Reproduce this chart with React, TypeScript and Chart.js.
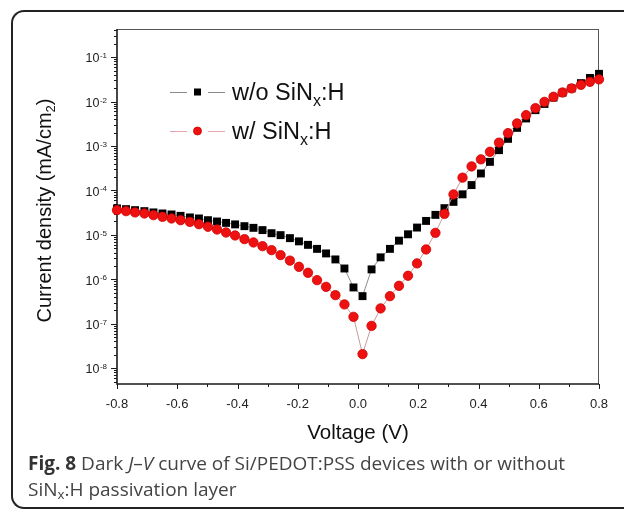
import React, { useEffect, useRef } from "react";
import { Chart, registerables } from "chart.js";

Chart.register(...registerables);

// ---- Data ----
const voltage = [
  -0.8, -0.77, -0.74, -0.709, -0.679, -0.649, -0.619, -0.589, -0.558, -0.528,
  -0.498, -0.468, -0.438, -0.408, -0.377, -0.347, -0.317, -0.287, -0.257, -0.226,
  -0.196, -0.166, -0.136, -0.106, -0.075, -0.045, -0.015, 0.015, 0.045, 0.075,
  0.106, 0.136, 0.166, 0.196, 0.226, 0.257, 0.287, 0.317, 0.347, 0.377,
  0.408, 0.438, 0.468, 0.498, 0.528, 0.558, 0.589, 0.619, 0.649, 0.679,
  0.709, 0.74, 0.77, 0.8,
];

const jWithout = [
  3.94e-5, 3.79e-5, 3.6e-5, 3.42e-5, 3.2e-5, 3.03e-5, 2.88e-5, 2.68e-5, 2.47e-5, 2.34e-5,
  2.14e-5, 2.0e-5, 1.86e-5, 1.72e-5, 1.57e-5, 1.44e-5, 1.28e-5, 1.09e-5, 9.86e-6, 8.44e-6,
  7.15e-6, 5.96e-6, 4.84e-6, 3.82e-6, 2.8e-6, 1.75e-6, 6.56e-7, 4.18e-7, 1.67e-6, 3.12e-6,
  4.84e-6, 7.41e-6, 1.03e-5, 1.46e-5, 2.06e-5, 2.82e-5, 3.99e-5, 5.53e-5, 8.17e-5, 1.32e-4,
  2.41e-4, 4.4e-4, 8.07e-4, 1.45e-3, 2.56e-3, 4.17e-3, 6.41e-3, 8.85e-3, 1.23e-2, 1.59e-2,
  1.98e-2, 2.6e-2, 3.4e-2, 4.21e-2,
];

const jWith = [
  3.6e-5, 3.42e-5, 3.2e-5, 3.03e-5, 2.78e-5, 2.55e-5, 2.34e-5, 2.14e-5, 1.96e-5, 1.74e-5,
  1.52e-5, 1.32e-5, 1.13e-5, 9.7e-6, 8.01e-6, 6.75e-6, 5.57e-6, 4.53e-6, 3.5e-6, 2.63e-6,
  1.91e-6, 1.4e-6, 9.57e-7, 6.76e-7, 4.4e-7, 2.72e-7, 1.43e-7, 2.07e-8, 8.95e-8, 2.21e-7,
  4.18e-7, 7.13e-7, 1.2e-6, 2.28e-6, 4.7e-6, 1.11e-5, 2.97e-5, 8.13e-5, 1.94e-4, 3.47e-4,
  5.01e-4, 7.4e-4, 1.19e-3, 1.95e-3, 3.22e-3, 4.95e-3, 7.11e-3, 9.86e-3, 1.28e-2, 1.6e-2,
  1.98e-2, 2.38e-2, 2.78e-2, 3.16e-2,
];

const xMajorTicks = [-0.8, -0.6, -0.4, -0.2, 0.0, 0.2, 0.4, 0.6, 0.8];
const xTickLabels = ["-0.8", "-0.6", "-0.4", "-0.2", "0.0", "0.2", "0.4", "0.6", "0.8"];
const xMinorTicks = [-0.7, -0.5, -0.3, -0.1, 0.1, 0.3, 0.5, 0.7];
const yDecadeExponents = [-8, -7, -6, -5, -4, -3, -2, -1];
const yMinorMantissas = [2, 3, 4, 5, 6, 7, 8, 9];

const xRange = { min: -0.8, max: 0.8 };
const yRange = { min: 4.4e-9, max: 0.43 };

const legendEntries = [
  { main: "w/o SiN", sub: "x", tail: ":H" },
  { main: "w/ SiN", sub: "x", tail: ":H" },
];

const xTitle = "Voltage (V)";
const yTitle = { main: "Current density (mA/cm", sub: "2", tail: ")" };

const SANS = '"Liberation Sans", Arial, Helvetica, sans-serif';

function drawSquare(ctx: CanvasRenderingContext2D, x: number, y: number, s: number, color: string) {
  ctx.fillStyle = color;
  ctx.fillRect(x - s / 2, y - s / 2, s, s);
}
function drawCircle(ctx: CanvasRenderingContext2D, x: number, y: number, r: number, fill: string, stroke: string) {
  ctx.beginPath();
  ctx.arc(x, y, r, 0, Math.PI * 2);
  ctx.fillStyle = fill;
  ctx.fill();
  ctx.strokeStyle = stroke;
  ctx.lineWidth = 0.8;
  ctx.stroke();
}

const axesPlugin = {
  id: "customAxes",
  beforeDatasetsDraw(chart: any) {
    const { ctx, chartArea: a, scales } = chart;
    const xs = scales.x;
    const ys = scales.y;
    ctx.save();
    // top and right frame
    ctx.strokeStyle = "#555";
    ctx.lineWidth = 1;
    ctx.beginPath();
    ctx.moveTo(a.left, a.top + 0.5);
    ctx.lineTo(a.right, a.top + 0.5);
    ctx.moveTo(a.right - 0.5, a.top);
    ctx.lineTo(a.right - 0.5, a.bottom);
    ctx.stroke();
    // left and bottom axes
    ctx.strokeStyle = "#1a1a1a";
    ctx.lineWidth = 1.6;
    ctx.beginPath();
    ctx.moveTo(a.left, a.top);
    ctx.lineTo(a.left, a.bottom);
    ctx.lineTo(a.right, a.bottom);
    ctx.stroke();

    // y ticks
    ctx.lineWidth = 1;
    ctx.beginPath();
    const eLo = Math.floor(Math.log10(ys.min));
    const eHi = Math.floor(Math.log10(ys.max));
    for (let e = eLo; e <= eHi; e++) {
      const p = Math.pow(10, e);
      if (p >= ys.min && p <= ys.max) {
        const py = Math.round(ys.getPixelForValue(p)) + 0.5;
        ctx.moveTo(a.left - 6, py);
        ctx.lineTo(a.left, py);
      }
      for (const m of yMinorMantissas) {
        const v = m * p;
        if (v < ys.min || v > ys.max) continue;
        const py = Math.round(ys.getPixelForValue(v)) + 0.5;
        ctx.moveTo(a.left - 3, py);
        ctx.lineTo(a.left, py);
      }
    }
    // x ticks
    for (const v of xMajorTicks) {
      const px = Math.round(xs.getPixelForValue(v)) + 0.5;
      ctx.moveTo(px, a.bottom);
      ctx.lineTo(px, a.bottom + 5);
    }
    for (const v of xMinorTicks) {
      const px = Math.round(xs.getPixelForValue(v)) + 0.5;
      ctx.moveTo(px, a.bottom);
      ctx.lineTo(px, a.bottom + 3);
    }
    ctx.stroke();

    // y tick labels: 10^n
    ctx.fillStyle = "#222";
    ctx.textBaseline = "alphabetic";
    ctx.textAlign = "left";
    for (const e of yDecadeExponents) {
      const py = ys.getPixelForValue(Math.pow(10, e));
      const sup = String(e);
      ctx.font = `8px ${SANS}`;
      const supW = ctx.measureText(sup).width;
      ctx.font = `12.5px ${SANS}`;
      const baseW = ctx.measureText("10").width;
      const right = a.left - 10;
      ctx.fillText("10", right - supW - baseW - 0.5, py + 5.3);
      ctx.font = `8px ${SANS}`;
      ctx.fillText(sup, right - supW, py + 1);
    }
    // x tick labels
    ctx.font = `13px ${SANS}`;
    ctx.textAlign = "center";
    xMajorTicks.forEach((v, i) => {
      const px = xs.getPixelForValue(v);
      ctx.fillText(xTickLabels[i], px, a.bottom + 23.5);
    });

    // x title
    ctx.fillStyle = "#111";
    ctx.font = `20.5px ${SANS}`;
    ctx.textAlign = "center";
    ctx.fillText(xTitle, (a.left + a.right) / 2, a.bottom + 55);

    // y title (rotated)
    ctx.save();
    const cx = 51;
    const cy = (a.top + a.bottom) / 2 + 4;
    ctx.translate(cx, cy);
    ctx.rotate(-Math.PI / 2);
    ctx.font = `20px ${SANS}`;
    const w1 = ctx.measureText(yTitle.main).width;
    const w3 = ctx.measureText(yTitle.tail).width;
    ctx.font = `13px ${SANS}`;
    const w2 = ctx.measureText(yTitle.sub).width;
    const total = w1 + w2 + w3;
    const x0 = -total / 2;
    ctx.textAlign = "left";
    ctx.font = `20px ${SANS}`;
    ctx.fillText(yTitle.main, x0, 0);
    ctx.font = `13px ${SANS}`;
    ctx.fillText(yTitle.sub, x0 + w1, 4);
    ctx.font = `20px ${SANS}`;
    ctx.fillText(yTitle.tail, x0 + w1 + w2, 0);
    ctx.restore();

    ctx.restore();
  },
  afterDraw(chart: any) {
    const { ctx, chartArea: a } = chart;
    ctx.save();
    const rows = [
      { y: a.top + 63, line: "#8a8a8a", kind: "square" },
      { y: a.top + 102, line: "#e6a3ab", kind: "circle" },
    ];
    rows.forEach((r, i) => {
      const lx = a.left + 53;
      ctx.strokeStyle = r.line;
      ctx.lineWidth = 1;
      ctx.beginPath();
      ctx.moveTo(lx, r.y + 0.5);
      ctx.lineTo(lx + 17, r.y + 0.5);
      ctx.moveTo(lx + 38, r.y + 0.5);
      ctx.lineTo(lx + 55, r.y + 0.5);
      ctx.stroke();
      if (r.kind === "square") drawSquare(ctx, lx + 27.5, r.y, 7, "#000");
      else drawCircle(ctx, lx + 27.5, r.y, 4, "#ee1111", "#d00000");
      const entry = legendEntries[i];
      const tx = a.left + 115;
      const base = r.y + 7.5;
      ctx.fillStyle = "#111";
      ctx.textAlign = "left";
      ctx.font = `23.5px ${SANS}`;
      const w1 = ctx.measureText(entry.main).width;
      ctx.fillText(entry.main, tx, base);
      ctx.font = `16px ${SANS}`;
      const w2 = ctx.measureText(entry.sub).width;
      ctx.fillText(entry.sub, tx + w1, base + 6);
      ctx.font = `23.5px ${SANS}`;
      ctx.fillText(entry.tail, tx + w1 + w2, base);
    });
    ctx.restore();
  },
};

export default function App() {
  const canvasRef = useRef<HTMLCanvasElement | null>(null);

  useEffect(() => {
    const canvas = canvasRef.current;
    if (!canvas) return;
    const chart = new Chart(canvas, {
      type: "line",
      data: {
        datasets: [
          {
            label: "w/ SiNx:H",
            data: voltage.map((v, i) => ({ x: v, y: jWith[i] })),
            borderColor: "#c99a9a",
            borderWidth: 1,
            pointStyle: "circle",
            pointRadius: 4.7,
            pointBackgroundColor: "#ee1111",
            pointBorderColor: "#d20000",
            pointBorderWidth: 0.8,
            order: 0,
            clip: false,
          } as any,
          {
            label: "w/o SiNx:H",
            data: voltage.map((v, i) => ({ x: v, y: jWithout[i] })),
            borderColor: "#8c8c8c",
            borderWidth: 1,
            pointStyle: "rect",
            pointRadius: 5.6,
            pointBackgroundColor: "#000",
            pointBorderColor: "#000",
            pointBorderWidth: 0,
            order: 1,
            clip: false,
          } as any,
        ],
      },
      options: {
        animation: false,
        responsive: false,
        devicePixelRatio: 1,
        layout: { padding: { top: 29, right: 25, left: 0, bottom: 0 } },
        plugins: { legend: { display: false }, tooltip: { enabled: false } },
        elements: { line: { tension: 0 } },
        scales: {
          x: {
            type: "linear",
            min: xRange.min,
            max: xRange.max,
            grid: { display: false },
            border: { display: false },
            ticks: { display: false },
            afterFit: (s: any) => {
              s.height = 130;
            },
          },
          y: {
            type: "logarithmic",
            min: yRange.min,
            max: yRange.max,
            grid: { display: false },
            border: { display: false },
            ticks: { display: false },
            afterFit: (s: any) => {
              s.width = 117;
            },
          },
        },
      },
      plugins: [axesPlugin],
    });
    return () => chart.destroy();
  }, []);

  return (
    <>
      <div
        style={{
          position: "absolute",
          left: 11,
          top: 10,
          width: 613,
          height: 499,
          boxSizing: "border-box",
          borderTop: "2px solid #222",
          borderLeft: "2px solid #222",
          borderBottom: "2px solid #222",
          borderTopLeftRadius: 13,
          borderBottomLeftRadius: 13,
        }}
      />
      <canvas
        ref={canvasRef}
        width={624}
        height={514}
        style={{ position: "absolute", left: 0, top: 0, width: 624, height: 514 }}
      />
      <div
        style={{
          position: "absolute",
          left: 28,
          top: 450,
          fontFamily: '"Open Sans", "Noto Sans", sans-serif',
          fontSize: 19,
          lineHeight: "26px",
          color: "#444",
          whiteSpace: "nowrap",
        }}
      >
        <b style={{ color: "#333" }}>Fig. 8</b> Dark <i>J</i>–<i>V</i> curve of Si/PEDOT:PSS devices with or without
        <br />
        SiN
        <sub style={{ fontSize: "0.7em", lineHeight: 0, verticalAlign: "-0.25em" }}>x</sub>:H passivation layer
      </div>
    </>
  );
}
